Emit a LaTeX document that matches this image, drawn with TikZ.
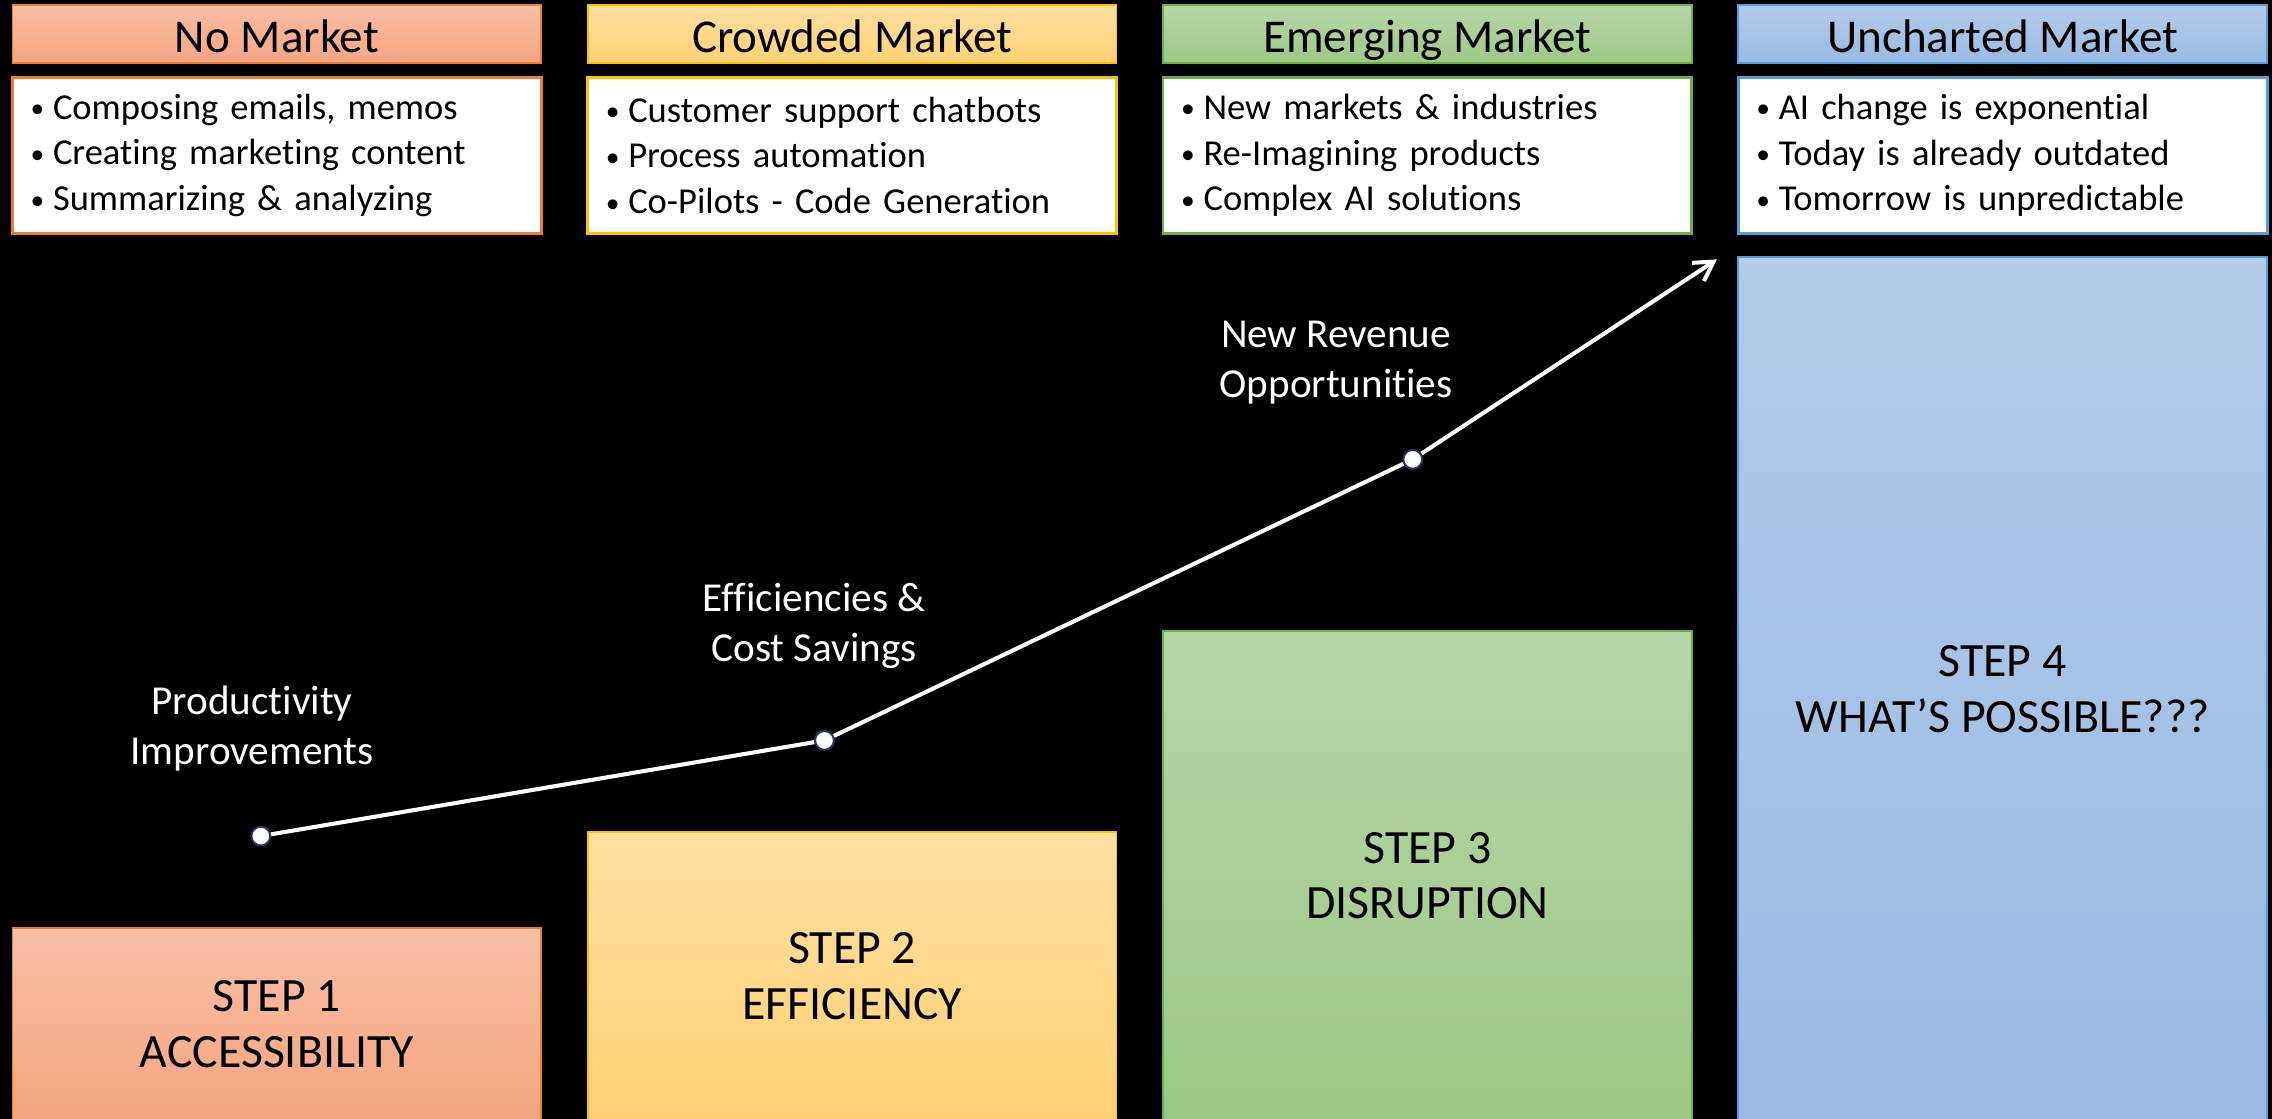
\documentclass[tikz,border=0pt]{standalone}
\usepackage{fontspec}
\setmainfont{Carlito}[Ligatures=CommonOff]
\usepackage{tikz}
\usetikzlibrary{arrows.meta,positioning,backgrounds,calc}
\definecolor{orgline}{HTML}{ED7D31}
\definecolor{orgtop}{HTML}{F8C0A7}
\definecolor{orgbot}{HTML}{F4A47F}
\definecolor{ylwline}{HTML}{FFC000}
\definecolor{ylwtop}{HTML}{FFE0A0}
\definecolor{ylwbot}{HTML}{FFD175}
\definecolor{grnline}{HTML}{70AD47}
\definecolor{grntop}{HTML}{B6D7A8}
\definecolor{grnbot}{HTML}{9CC886}
\definecolor{blueline}{HTML}{5B9BD5}
\definecolor{bluetop}{HTML}{B2CCEA}
\definecolor{bluebot}{HTML}{98BAE3}
\definecolor{dotrim}{HTML}{1F3864}
\newcommand{\bul}{\makebox[17pt][l]{\hspace{1.5pt}\raisebox{1pt}{\fontsize{19}{19}\selectfont\textbullet}}}

\begin{document}
\begin{tikzpicture}[x=1pt, y=1pt, >={Straight Barb[length=13pt,width=15pt]},
      node distance=8pt,
      hdr/.style={draw=#1line, line width=1.2pt, top color=#1top, bottom color=#1bot,
        minimum width=365pt, text height=32.5pt, text depth=7.5pt, inner sep=0pt, anchor=north west,
        font=\fontsize{32.5}{38}\selectfont},
      lst/.style={draw=#1line, line width=2pt, fill=white, text width=343pt, inner xsep=11pt,
        minimum height=108pt, align=left, font=\fontsize{25.2}{31.5}\selectfont},
      stepbox/.style={draw=#1line, line width=1.2pt, top color=#1top, bottom color=#1bot,
        minimum width=365pt, anchor=south west, align=center,
        font=\fontsize{33}{38.5}\selectfont},
      dot/.style={circle, draw=dotrim, line width=1.4pt, fill=white, minimum size=13pt, inner sep=0pt},
      lbl/.style={text=white, align=center, font=\fontsize{28.4}{34.5}\selectfont},
      trend/.style={draw=white, line width=2.8pt}]
     \useasboundingbox (0,0) rectangle (1568,772);
     \fill[black] (0,0) rectangle (1568,772);
     % market headers and their lists
     \node[hdr=org] (hdrA) at (8,769) {No Market};
     \node[hdr=ylw] (hdrB) at (405,769) {Crowded Market};
     \node[hdr=grn] (hdrC) at (802,769) {Emerging Market};
     \node[hdr=blue] (hdrD) at (1199,769) {Uncharted Market};
     \node[lst=org, below = of hdrA] (lstA) {\bul Composing emails, memos\\ \bul Creating marketing content\\ \bul Summarizing \& analyzing};
     \node[lst=ylw, below = of hdrB] (lstB) {\bul Customer support chatbots\\ \bul Process automation\\ \bul Co-Pilots - Code Generation};
     \node[lst=grn, below = of hdrC] (lstC) {\bul New markets \& industries\\ \bul Re-Imagining products\\ \bul Complex AI solutions};
     \node[lst=blue, below = of hdrD] (lstD) {\bul AI change is exponential\\ \bul Today is already outdated\\ \bul Tomorrow is unpredictable};
     % steps
     \node[stepbox=org, minimum height=133pt] (stepA) at (8,-2) {STEP 1\\ ACCESSIBILITY};
     \node[stepbox=ylw, minimum height=199pt] (stepB) at (405,-2) {STEP 2\\ EFFICIENCY};
     \node[stepbox=grn, minimum height=338pt] (stepC) at (802,-2) {STEP 3\\ DISRUPTION};
     \node[stepbox=blue, minimum height=596pt] (stepD) at (1199,-2) {STEP 4\\ WHAT’S POSSIBLE???};
     % trend line
     \node[dot] (ptA) at (180,195) {};
     \node[dot] (ptB) at (569,261) {};
     \node[dot] (ptC) at (975,455) {};
     \coordinate (tip) at (1185,593);
     \draw[trend, ->] (ptA) -- (ptB) -- (ptC) -- (tip);
     \node[lbl] (lblA) at (174,269) {Productivity\\ Improvements};
     \node[lbl] (lblB) at (562,340) {Efficiencies \&\\ Cost Savings};
     \node[lbl] (lblC) at (922,522) {New Revenue\\ Opportunities};
\end{tikzpicture}
\end{document}
